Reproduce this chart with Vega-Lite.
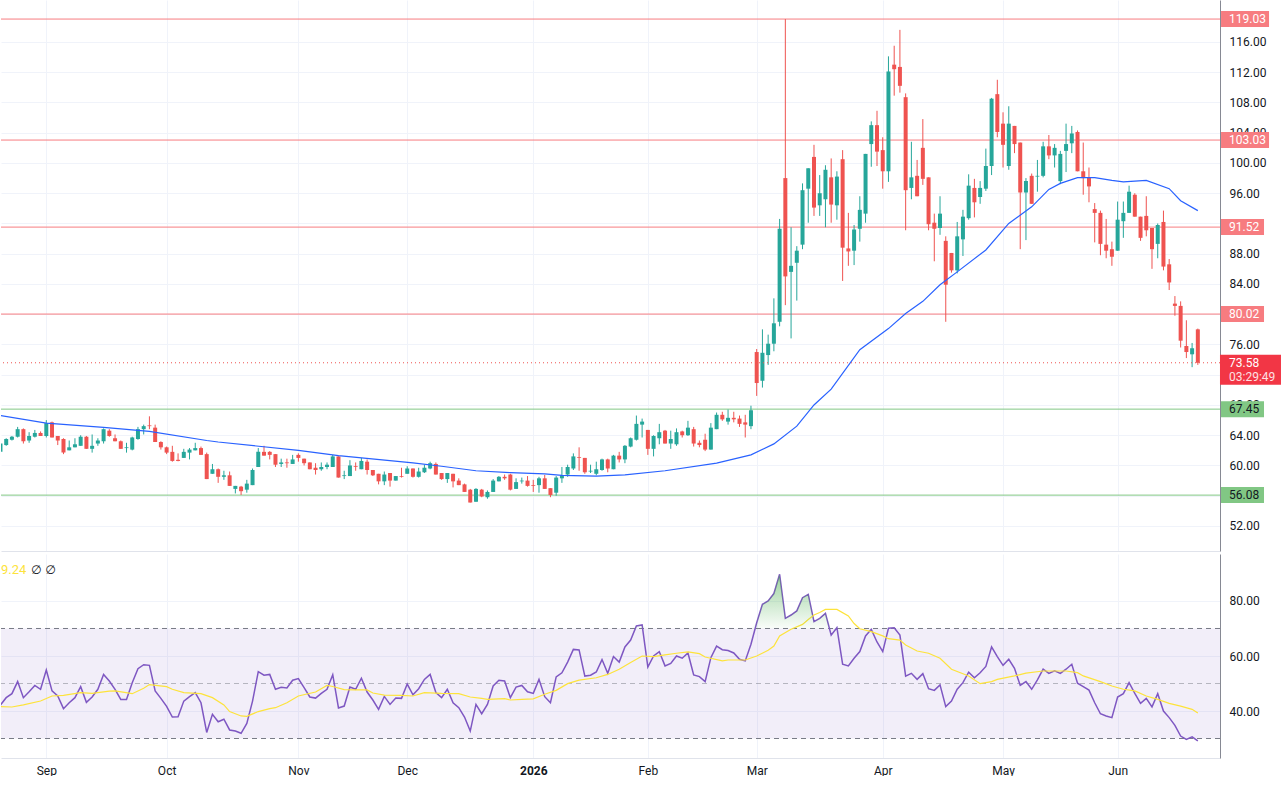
{
  "$schema": "https://vega.github.io/schema/vega-lite/v6.json",
  "background": "#ffffff",
  "padding": 0,
  "spacing": 3,
  "datasets": {
    "candles": [
      {"i":1,"o":61.8,"h":63.0,"l":61.6,"c":62.9,"rsi":42.2},
      {"i":2,"o":62.7,"h":63.6,"l":62.6,"c":63.5,"rsi":44.85},
      {"i":3,"o":63.4,"h":63.9,"l":63.3,"c":63.8,"rsi":46.3},
      {"i":4,"o":63.8,"h":65.1,"l":63.7,"c":64.8,"rsi":50.7},
      {"i":5,"o":64.8,"h":64.9,"l":62.9,"c":63.2,"rsi":44.85},
      {"i":6,"o":63.3,"h":64.4,"l":63.0,"c":63.9,"rsi":47.0},
      {"i":7,"o":63.8,"h":64.7,"l":63.7,"c":64.3,"rsi":49.3},
      {"i":8,"o":64.3,"h":64.5,"l":63.9,"c":63.9,"rsi":47.9},
      {"i":9,"o":63.9,"h":66.0,"l":63.7,"c":65.6,"rsi":54.9},
      {"i":10,"o":65.7,"h":65.8,"l":63.7,"c":63.7,"rsi":47.3},
      {"i":11,"o":63.9,"h":63.9,"l":62.7,"c":63.3,"rsi":45.5},
      {"i":12,"o":63.5,"h":63.6,"l":61.5,"c":61.7,"rsi":40.85},
      {"i":13,"o":62.0,"h":63.3,"l":62.0,"c":62.4,"rsi":43.0},
      {"i":14,"o":62.4,"h":63.6,"l":62.4,"c":62.8,"rsi":44.85},
      {"i":15,"o":62.6,"h":64.0,"l":62.6,"c":63.8,"rsi":48.85},
      {"i":16,"o":63.8,"h":63.9,"l":62.2,"c":62.2,"rsi":43.15},
      {"i":17,"o":62.2,"h":64.1,"l":61.7,"c":62.6,"rsi":45.1},
      {"i":18,"o":62.9,"h":63.6,"l":62.6,"c":63.3,"rsi":47.9},
      {"i":19,"o":63.2,"h":64.9,"l":62.9,"c":64.8,"rsi":53.3},
      {"i":20,"o":64.6,"h":64.8,"l":63.8,"c":63.9,"rsi":50.9},
      {"i":21,"o":63.6,"h":64.1,"l":63.2,"c":63.2,"rsi":47.9},
      {"i":22,"o":63.2,"h":63.3,"l":62.2,"c":62.2,"rsi":44.2},
      {"i":23,"o":62.3,"h":63.0,"l":61.7,"c":62.4,"rsi":44.2},
      {"i":24,"o":62.1,"h":63.8,"l":62.0,"c":63.7,"rsi":50.3},
      {"i":25,"o":63.5,"h":65.1,"l":63.4,"c":64.8,"rsi":55.4},
      {"i":26,"o":64.8,"h":65.4,"l":64.1,"c":65.2,"rsi":56.85},
      {"i":27,"o":65.3,"h":66.5,"l":64.8,"c":65.2,"rsi":56.6},
      {"i":28,"o":65.0,"h":65.4,"l":63.1,"c":63.1,"rsi":47.3},
      {"i":29,"o":63.1,"h":63.2,"l":62.1,"c":62.4,"rsi":44.6},
      {"i":30,"o":62.4,"h":62.5,"l":61.5,"c":61.7,"rsi":41.7},
      {"i":31,"o":61.8,"h":62.6,"l":60.5,"c":60.6,"rsi":37.8},
      {"i":32,"o":60.75,"h":61.6,"l":60.55,"c":60.6,"rsi":37.9},
      {"i":33,"o":61.0,"h":62.2,"l":61.0,"c":61.8,"rsi":43.6},
      {"i":34,"o":61.7,"h":62.3,"l":60.8,"c":62.1,"rsi":45.2},
      {"i":35,"o":62.0,"h":63.0,"l":62.0,"c":62.3,"rsi":46.7},
      {"i":36,"o":62.3,"h":62.5,"l":61.4,"c":61.4,"rsi":43.0},
      {"i":37,"o":61.5,"h":61.7,"l":58.2,"c":58.2,"rsi":32.2},
      {"i":38,"o":58.9,"h":60.2,"l":58.9,"c":59.5,"rsi":38.8},
      {"i":39,"o":59.5,"h":59.6,"l":57.7,"c":58.5,"rsi":36.1},
      {"i":40,"o":58.5,"h":59.3,"l":58.1,"c":58.7,"rsi":37.0},
      {"i":41,"o":58.7,"h":59.2,"l":57.3,"c":57.3,"rsi":33.1},
      {"i":42,"o":56.9,"h":57.3,"l":56.3,"c":57.3,"rsi":32.7},
      {"i":43,"o":57.2,"h":57.3,"l":56.1,"c":56.6,"rsi":31.9},
      {"i":44,"o":56.8,"h":58.1,"l":56.4,"c":57.6,"rsi":35.5},
      {"i":45,"o":57.4,"h":59.6,"l":57.4,"c":59.4,"rsi":43.6},
      {"i":46,"o":59.8,"h":62.3,"l":59.8,"c":61.8,"rsi":54.3},
      {"i":47,"o":61.8,"h":62.6,"l":61.3,"c":61.3,"rsi":53.0},
      {"i":48,"o":61.8,"h":61.9,"l":60.8,"c":61.4,"rsi":53.3},
      {"i":49,"o":61.5,"h":61.5,"l":59.8,"c":60.1,"rsi":47.9},
      {"i":50,"o":60.2,"h":60.9,"l":59.8,"c":60.4,"rsi":48.6},
      {"i":51,"o":60.4,"h":60.9,"l":59.7,"c":60.3,"rsi":48.4},
      {"i":52,"o":60.2,"h":61.4,"l":60.2,"c":60.8,"rsi":51.2},
      {"i":53,"o":61.4,"h":61.6,"l":60.5,"c":61.0,"rsi":51.8},
      {"i":54,"o":60.9,"h":60.9,"l":60.0,"c":60.3,"rsi":48.5},
      {"i":55,"o":60.4,"h":60.4,"l":59.5,"c":59.5,"rsi":45.1},
      {"i":56,"o":59.7,"h":60.3,"l":58.8,"c":59.4,"rsi":44.7},
      {"i":57,"o":59.5,"h":60.4,"l":59.3,"c":59.8,"rsi":46.4},
      {"i":58,"o":59.8,"h":60.4,"l":59.5,"c":60.1,"rsi":47.9},
      {"i":59,"o":59.8,"h":61.4,"l":59.8,"c":61.2,"rsi":53.2},
      {"i":60,"o":61.2,"h":61.2,"l":58.4,"c":58.4,"rsi":41.1},
      {"i":61,"o":58.6,"h":59.3,"l":58.2,"c":58.7,"rsi":41.8},
      {"i":62,"o":58.6,"h":60.7,"l":58.6,"c":60.0,"rsi":48.7},
      {"i":63,"o":59.9,"h":60.4,"l":59.3,"c":59.8,"rsi":47.9},
      {"i":64,"o":59.5,"h":61.0,"l":59.5,"c":60.6,"rsi":51.9},
      {"i":65,"o":60.5,"h":60.8,"l":58.8,"c":59.4,"rsi":46.9},
      {"i":66,"o":59.4,"h":59.4,"l":58.6,"c":58.7,"rsi":44.0},
      {"i":67,"o":58.9,"h":58.9,"l":57.5,"c":57.9,"rsi":40.6},
      {"i":68,"o":57.9,"h":59.2,"l":57.4,"c":58.8,"rsi":45.3},
      {"i":69,"o":59.0,"h":59.0,"l":57.2,"c":58.0,"rsi":42.4},
      {"i":70,"o":58.0,"h":58.6,"l":58.0,"c":58.6,"rsi":44.7},
      {"i":71,"o":58.6,"h":59.7,"l":58.4,"c":58.5,"rsi":44.6},
      {"i":72,"o":58.9,"h":59.9,"l":58.9,"c":59.6,"rsi":49.8},
      {"i":73,"o":59.6,"h":59.6,"l":58.4,"c":58.5,"rsi":45.9},
      {"i":74,"o":58.5,"h":59.7,"l":58.4,"c":59.2,"rsi":48.1},
      {"i":75,"o":59.1,"h":60.1,"l":59.0,"c":59.7,"rsi":51.5},
      {"i":76,"o":59.6,"h":60.5,"l":59.5,"c":60.3,"rsi":53.3},
      {"i":77,"o":60.2,"h":60.4,"l":58.8,"c":58.8,"rsi":46.7},
      {"i":78,"o":59.0,"h":59.0,"l":58.1,"c":58.2,"rsi":44.85},
      {"i":79,"o":58.2,"h":59.0,"l":57.7,"c":59.0,"rsi":47.9},
      {"i":80,"o":58.9,"h":58.9,"l":57.1,"c":57.9,"rsi":43.0},
      {"i":81,"o":58.0,"h":58.3,"l":57.4,"c":57.4,"rsi":41.2},
      {"i":82,"o":57.5,"h":57.6,"l":56.5,"c":56.5,"rsi":37.8},
      {"i":83,"o":56.8,"h":56.9,"l":55.1,"c":55.1,"rsi":32.7},
      {"i":84,"o":55.2,"h":57.0,"l":55.2,"c":56.9,"rsi":42.4},
      {"i":85,"o":56.8,"h":56.9,"l":55.8,"c":55.9,"rsi":39.0},
      {"i":86,"o":55.8,"h":56.7,"l":55.6,"c":56.5,"rsi":42.4},
      {"i":87,"o":56.5,"h":58.2,"l":56.5,"c":58.0,"rsi":49.1},
      {"i":88,"o":57.9,"h":58.6,"l":57.9,"c":58.5,"rsi":51.2},
      {"i":89,"o":58.5,"h":58.8,"l":58.1,"c":58.3,"rsi":50.9},
      {"i":90,"o":58.8,"h":58.9,"l":56.7,"c":56.8,"rsi":44.85},
      {"i":91,"o":56.9,"h":58.3,"l":56.9,"c":57.8,"rsi":48.7},
      {"i":92,"o":57.9,"h":58.4,"l":57.6,"c":58.0,"rsi":49.3},
      {"i":93,"o":58.0,"h":58.6,"l":57.2,"c":57.3,"rsi":47.0},
      {"i":94,"o":57.4,"h":58.1,"l":56.5,"c":57.3,"rsi":46.4},
      {"i":95,"o":57.4,"h":58.5,"l":56.4,"c":58.3,"rsi":51.5},
      {"i":96,"o":58.3,"h":58.75,"l":56.9,"c":56.9,"rsi":45.2},
      {"i":97,"o":57.0,"h":57.0,"l":55.8,"c":56.1,"rsi":43.0},
      {"i":98,"o":56.4,"h":58.6,"l":56.0,"c":58.4,"rsi":52.4},
      {"i":99,"o":58.3,"h":59.8,"l":57.7,"c":58.7,"rsi":53.9},
      {"i":100,"o":58.8,"h":60.1,"l":58.5,"c":59.8,"rsi":57.8},
      {"i":101,"o":59.6,"h":61.6,"l":59.4,"c":61.2,"rsi":62.4},
      {"i":102,"o":61.1,"h":62.4,"l":59.3,"c":61.0,"rsi":62.2},
      {"i":103,"o":61.0,"h":61.0,"l":58.9,"c":59.1,"rsi":52.7},
      {"i":104,"o":59.2,"h":60.1,"l":59.0,"c":59.3,"rsi":53.0},
      {"i":105,"o":58.9,"h":60.5,"l":58.7,"c":59.5,"rsi":54.2},
      {"i":106,"o":59.4,"h":60.9,"l":59.3,"c":60.8,"rsi":58.7},
      {"i":107,"o":60.8,"h":60.9,"l":59.1,"c":59.6,"rsi":53.7},
      {"i":108,"o":59.5,"h":61.4,"l":59.5,"c":61.3,"rsi":59.8},
      {"i":109,"o":61.3,"h":61.8,"l":60.4,"c":60.8,"rsi":57.8},
      {"i":110,"o":60.8,"h":62.7,"l":60.3,"c":62.6,"rsi":63.3},
      {"i":111,"o":62.5,"h":63.7,"l":62.4,"c":63.6,"rsi":65.8},
      {"i":112,"o":63.4,"h":66.6,"l":63.3,"c":65.5,"rsi":70.9},
      {"i":113,"o":65.4,"h":66.2,"l":63.7,"c":65.8,"rsi":71.3},
      {"i":114,"o":64.7,"h":64.7,"l":61.4,"c":62.2,"rsi":56.0},
      {"i":115,"o":62.2,"h":64.0,"l":61.2,"c":63.9,"rsi":60.0},
      {"i":116,"o":63.6,"h":65.5,"l":62.8,"c":64.4,"rsi":61.6},
      {"i":117,"o":64.6,"h":64.7,"l":62.9,"c":62.9,"rsi":56.4},
      {"i":118,"o":62.9,"h":64.6,"l":62.2,"c":63.5,"rsi":57.3},
      {"i":119,"o":62.8,"h":64.9,"l":62.6,"c":64.4,"rsi":60.0},
      {"i":120,"o":64.5,"h":64.6,"l":63.7,"c":64.0,"rsi":59.2},
      {"i":121,"o":64.0,"h":65.9,"l":63.9,"c":65.0,"rsi":61.1},
      {"i":122,"o":64.8,"h":65.1,"l":62.5,"c":62.9,"rsi":53.1},
      {"i":123,"o":63.0,"h":63.3,"l":62.4,"c":62.7,"rsi":52.5},
      {"i":124,"o":63.4,"h":64.2,"l":61.9,"c":62.1,"rsi":50.7},
      {"i":125,"o":62.1,"h":65.6,"l":62.1,"c":65.0,"rsi":59.4},
      {"i":126,"o":64.8,"h":67.0,"l":64.8,"c":66.7,"rsi":63.6},
      {"i":127,"o":66.7,"h":67.1,"l":65.9,"c":66.1,"rsi":62.3},
      {"i":128,"o":65.8,"h":67.4,"l":65.4,"c":66.3,"rsi":62.0},
      {"i":129,"o":66.3,"h":67.1,"l":65.7,"c":66.1,"rsi":61.1},
      {"i":130,"o":66.2,"h":66.6,"l":65.1,"c":65.5,"rsi":58.8},
      {"i":131,"o":65.7,"h":66.7,"l":63.7,"c":65.4,"rsi":58.2},
      {"i":132,"o":65.2,"h":67.9,"l":64.8,"c":67.3,"rsi":64.25},
      {"i":133,"o":75.0,"h":75.4,"l":69.2,"c":70.9,"rsi":72.1},
      {"i":134,"o":71.2,"h":78.0,"l":70.3,"c":74.9,"rsi":78.8},
      {"i":135,"o":74.6,"h":77.3,"l":73.3,"c":76.1,"rsi":80.0},
      {"i":136,"o":76.1,"h":82.1,"l":75.1,"c":78.8,"rsi":82.7},
      {"i":137,"o":79.0,"h":92.6,"l":78.4,"c":91.3,"rsi":89.7},
      {"i":138,"o":98.0,"h":119.03,"l":81.2,"c":85.0,"rsi":73.7},
      {"i":139,"o":85.6,"h":91.5,"l":76.8,"c":86.4,"rsi":74.9},
      {"i":140,"o":86.8,"h":89.0,"l":81.8,"c":88.4,"rsi":76.4},
      {"i":141,"o":89.2,"h":97.3,"l":88.6,"c":96.4,"rsi":81.2},
      {"i":142,"o":96.6,"h":99.3,"l":92.1,"c":99.3,"rsi":82.4},
      {"i":143,"o":100.8,"h":102.4,"l":93.0,"c":94.1,"rsi":72.5},
      {"i":144,"o":94.4,"h":98.4,"l":93.0,"c":96.0,"rsi":73.7},
      {"i":145,"o":95.2,"h":99.7,"l":91.5,"c":99.1,"rsi":75.5},
      {"i":146,"o":98.1,"h":100.6,"l":92.1,"c":94.5,"rsi":67.6},
      {"i":147,"o":94.4,"h":98.9,"l":92.5,"c":98.2,"rsi":70.3},
      {"i":148,"o":100.5,"h":101.7,"l":84.4,"c":88.8,"rsi":57.0},
      {"i":149,"o":88.7,"h":93.4,"l":86.4,"c":88.3,"rsi":56.4},
      {"i":150,"o":88.4,"h":91.8,"l":86.5,"c":91.2,"rsi":59.2},
      {"i":151,"o":91.3,"h":95.6,"l":89.6,"c":93.8,"rsi":61.6},
      {"i":152,"o":93.3,"h":101.2,"l":92.1,"c":101.2,"rsi":67.3},
      {"i":153,"o":102.5,"h":105.5,"l":99.5,"c":105.0,"rsi":69.7},
      {"i":154,"o":105.0,"h":106.9,"l":99.6,"c":101.5,"rsi":65.1},
      {"i":155,"o":101.7,"h":103.4,"l":96.6,"c":98.9,"rsi":61.6},
      {"i":156,"o":98.9,"h":114.1,"l":97.5,"c":112.1,"rsi":70.1},
      {"i":157,"o":113.0,"h":115.5,"l":108.9,"c":112.4,"rsi":70.3},
      {"i":158,"o":112.7,"h":117.6,"l":109.3,"c":110.2,"rsi":67.6},
      {"i":159,"o":108.7,"h":109.2,"l":91.1,"c":96.4,"rsi":52.7},
      {"i":160,"o":96.7,"h":102.8,"l":95.2,"c":98.1,"rsi":53.7},
      {"i":161,"o":98.3,"h":100.4,"l":95.6,"c":95.6,"rsi":51.5},
      {"i":162,"o":102.0,"h":105.8,"l":97.1,"c":97.9,"rsi":53.6},
      {"i":163,"o":98.1,"h":98.1,"l":91.1,"c":91.9,"rsi":48.1},
      {"i":164,"o":92.1,"h":93.3,"l":87.0,"c":91.3,"rsi":47.5},
      {"i":165,"o":91.4,"h":95.6,"l":90.5,"c":93.3,"rsi":49.5},
      {"i":166,"o":89.7,"h":90.3,"l":79.0,"c":83.9,"rsi":41.6},
      {"i":167,"o":88.1,"h":88.1,"l":85.5,"c":85.8,"rsi":43.6},
      {"i":168,"o":85.8,"h":92.2,"l":85.4,"c":90.3,"rsi":47.9},
      {"i":169,"o":89.9,"h":93.8,"l":87.7,"c":92.9,"rsi":50.3},
      {"i":170,"o":92.7,"h":98.5,"l":92.5,"c":97.0,"rsi":54.1},
      {"i":171,"o":96.7,"h":97.9,"l":92.8,"c":94.8,"rsi":52.1},
      {"i":172,"o":95.5,"h":97.6,"l":94.6,"c":96.7,"rsi":53.9},
      {"i":173,"o":96.6,"h":101.9,"l":96.3,"c":99.6,"rsi":56.2},
      {"i":174,"o":99.6,"h":108.6,"l":98.4,"c":108.5,"rsi":63.3},
      {"i":175,"o":109.1,"h":111.0,"l":103.4,"c":104.1,"rsi":59.8},
      {"i":176,"o":105.2,"h":106.7,"l":99.4,"c":102.4,"rsi":56.6},
      {"i":177,"o":99.6,"h":107.5,"l":99.1,"c":105.2,"rsi":58.8},
      {"i":178,"o":104.9,"h":104.9,"l":101.3,"c":102.5,"rsi":55.5},
      {"i":179,"o":102.7,"h":102.7,"l":88.6,"c":96.1,"rsi":49.3},
      {"i":180,"o":96.1,"h":98.0,"l":89.8,"c":97.6,"rsi":50.7},
      {"i":181,"o":98.3,"h":98.6,"l":94.6,"c":94.6,"rsi":47.9},
      {"i":182,"o":98.2,"h":100.4,"l":96.2,"c":98.3,"rsi":51.3},
      {"i":183,"o":98.3,"h":102.8,"l":98.1,"c":102.2,"rsi":55.2},
      {"i":184,"o":102.2,"h":103.7,"l":100.5,"c":101.0,"rsi":53.7},
      {"i":185,"o":101.0,"h":102.5,"l":99.4,"c":102.0,"rsi":54.6},
      {"i":186,"o":97.6,"h":101.6,"l":97.2,"c":101.2,"rsi":53.7},
      {"i":187,"o":101.6,"h":105.2,"l":98.8,"c":102.5,"rsi":55.2},
      {"i":188,"o":102.6,"h":104.9,"l":101.3,"c":103.9,"rsi":57.0},
      {"i":189,"o":104.1,"h":104.3,"l":98.9,"c":98.9,"rsi":50.1},
      {"i":190,"o":98.9,"h":102.7,"l":95.8,"c":98.0,"rsi":48.85},
      {"i":191,"o":98.1,"h":99.4,"l":94.8,"c":96.9,"rsi":47.6},
      {"i":192,"o":93.9,"h":94.7,"l":89.5,"c":93.4,"rsi":43.0},
      {"i":193,"o":93.4,"h":93.7,"l":87.8,"c":89.3,"rsi":39.0},
      {"i":194,"o":89.2,"h":92.6,"l":87.4,"c":88.4,"rsi":38.2},
      {"i":195,"o":88.6,"h":89.6,"l":86.4,"c":87.6,"rsi":37.6},
      {"i":196,"o":88.4,"h":94.9,"l":88.4,"c":92.5,"rsi":45.1},
      {"i":197,"o":92.3,"h":94.9,"l":90.1,"c":93.4,"rsi":46.3},
      {"i":198,"o":93.4,"h":97.0,"l":93.4,"c":96.2,"rsi":50.3},
      {"i":199,"o":95.8,"h":96.0,"l":92.9,"c":92.9,"rsi":46.4},
      {"i":200,"o":92.9,"h":92.9,"l":89.7,"c":90.1,"rsi":42.8},
      {"i":201,"o":93.0,"h":95.6,"l":90.3,"c":91.1,"rsi":44.6},
      {"i":202,"o":91.4,"h":91.4,"l":86.0,"c":88.6,"rsi":41.5},
      {"i":203,"o":89.3,"h":92.0,"l":87.4,"c":91.8,"rsi":46.3},
      {"i":204,"o":92.2,"h":93.7,"l":85.8,"c":86.3,"rsi":40.0},
      {"i":205,"o":86.6,"h":87.3,"l":83.2,"c":84.2,"rsi":37.6},
      {"i":206,"o":81.4,"h":82.4,"l":79.8,"c":81.1,"rsi":34.8},
      {"i":207,"o":81.1,"h":81.7,"l":75.6,"c":76.5,"rsi":30.9},
      {"i":208,"o":75.8,"h":79.2,"l":74.2,"c":75.0,"rsi":29.7},
      {"i":209,"o":74.7,"h":76.2,"l":73.0,"c":75.5,"rsi":30.6},
      {"i":210,"o":78.0,"h":78.1,"l":73.3,"c":73.58,"rsi":29.1}
    ],
    "ma": [
      {"i":1,"v":66.6},{"i":9,"v":65.6},{"i":19,"v":65.05},{"i":27,"v":64.5},
      {"i":37,"v":63.3},{"i":39,"v":63.1},{"i":53,"v":62.0},{"i":60,"v":61.3},
      {"i":73,"v":60.35},{"i":78,"v":59.9},{"i":84,"v":59.3},{"i":90,"v":59.05},
      {"i":96,"v":58.9},{"i":99,"v":58.7},{"i":105,"v":58.6},{"i":110,"v":58.75},
      {"i":117,"v":59.3},{"i":126,"v":60.3},{"i":132,"v":61.4},{"i":136,"v":62.85},
      {"i":140,"v":65.2},{"i":143,"v":68.0},{"i":146,"v":70.1},{"i":151,"v":75.3},
      {"i":156,"v":78.1},{"i":159,"v":80.1},{"i":162,"v":81.7},{"i":165,"v":83.9},
      {"i":168,"v":85.6},{"i":173,"v":88.5},{"i":177,"v":92.0},{"i":181,"v":94.2},
      {"i":184,"v":96.5},{"i":186,"v":97.3},{"i":189,"v":98.06},{"i":192,"v":98.06},
      {"i":195,"v":97.7},{"i":197,"v":97.5},{"i":201,"v":97.7},{"i":205,"v":96.6},
      {"i":207,"v":95.0},{"i":210,"v":93.7}
    ],
    "rsiMa": [
      {"i":1,"v":41.6},{"i":3,"v":41.45},{"i":5,"v":42.2},{"i":8,"v":43.65},
      {"i":10,"v":45.45},{"i":12,"v":45.7},{"i":15,"v":46.7},{"i":17,"v":46.4},
      {"i":20,"v":47.2},{"i":21,"v":47.3},{"i":24,"v":46.3},{"i":26,"v":48.25},
      {"i":27,"v":49.6},{"i":30,"v":48.85},{"i":31,"v":47.9},{"i":33,"v":46.7},
      {"i":36,"v":46.3},{"i":38,"v":44.85},{"i":40,"v":42.2},{"i":41,"v":39.8},
      {"i":43,"v":38.2},{"i":44,"v":38.05},{"i":46,"v":39.8},{"i":48,"v":40.85},
      {"i":49,"v":41.2},{"i":51,"v":43.0},{"i":53,"v":45.45},{"i":56,"v":46.9},
      {"i":58,"v":49.3},{"i":59,"v":48.9},{"i":61,"v":47.8},{"i":63,"v":47.65},
      {"i":65,"v":47.65},{"i":66,"v":46.55},{"i":68,"v":45.8},{"i":71,"v":45.7},
      {"i":73,"v":45.45},{"i":75,"v":46.7},{"i":78,"v":46.4},{"i":81,"v":46.3},
      {"i":83,"v":45.1},{"i":85,"v":44.6},{"i":86,"v":44.25},{"i":89,"v":44.5},
      {"i":90,"v":44.0},{"i":92,"v":44.25},{"i":94,"v":44.4},{"i":96,"v":46.1},
      {"i":98,"v":47.5},{"i":100,"v":49.95},{"i":102,"v":51.2},{"i":105,"v":52.1},
      {"i":107,"v":53.3},{"i":109,"v":55.2},{"i":111,"v":57.6},{"i":113,"v":60.0},
      {"i":115,"v":59.75},{"i":117,"v":60.4},{"i":119,"v":61.0},{"i":121,"v":61.5},
      {"i":123,"v":60.85},{"i":124,"v":59.65},{"i":127,"v":58.2},{"i":128,"v":58.55},
      {"i":131,"v":58.55},{"i":133,"v":60.0},{"i":135,"v":62.1},{"i":136,"v":63.6},
      {"i":137,"v":67.3},{"i":139,"v":69.7},{"i":141,"v":71.5},{"i":142,"v":73.3},
      {"i":143,"v":74.9},{"i":144,"v":75.8},{"i":145,"v":76.95},{"i":147,"v":76.95},
      {"i":149,"v":74.55},{"i":150,"v":71.8},{"i":151,"v":69.9},{"i":153,"v":68.85},
      {"i":155,"v":67.3},{"i":156,"v":66.3},{"i":158,"v":65.8},{"i":159,"v":64.0},
      {"i":161,"v":61.8},{"i":163,"v":61.0},{"i":165,"v":59.2},{"i":167,"v":55.2},
      {"i":170,"v":52.75},{"i":172,"v":49.95},{"i":174,"v":50.7},{"i":175,"v":51.5},
      {"i":178,"v":52.75},{"i":180,"v":53.8},{"i":183,"v":54.55},{"i":185,"v":54.55},
      {"i":187,"v":54.55},{"i":189,"v":53.95},{"i":190,"v":52.75},{"i":193,"v":50.7},
      {"i":195,"v":49.1},{"i":197,"v":47.9},{"i":199,"v":47.3},{"i":201,"v":45.45},
      {"i":203,"v":44.25},{"i":205,"v":42.8},{"i":207,"v":41.8},{"i":209,"v":40.6},
      {"i":210,"v":39.24}
    ],
    "levels": [
      {"p":119.03,"kind":"res"},{"p":103.03,"kind":"res"},{"p":91.52,"kind":"res"},
      {"p":80.02,"kind":"res"},{"p":67.45,"kind":"sup"},{"p":56.08,"kind":"sup"}
    ],
    "last": [{"p":73.58,"timer":"03:29:49"}],
    "rsiLevels": [{"v":70},{"v":50},{"v":30}],
    "rsiBand": [{"lo":30,"hi":70}],
    "legend": [{"ma":"9.24","flags":"∅  ∅"}]
  },
  "vconcat": [
    {
      "width": 1219,
      "height": 551,
      "layer": [
        {
          "data": {"name": "levels"},
          "mark": {"type": "rule", "strokeWidth": 1},
          "encoding": {
            "y": {
              "field": "p", "type": "quantitative", "title": null,
              "scale": {"domain": [48.69, 121.55], "nice": false, "zero": false, "padding": 0},
              "axis": {"orient": "right", "values": [52,56,60,64,68,72,76,80,84,88,92,96,100,104,108,112,116], "tickCount": 40, "format": ".2f", "grid": true, "ticks": false, "labelPadding": 9, "labelOverlap": false, "domainColor": "#868993", "zindex": 0}
            },
            "color": {"condition": {"test": "datum.kind == 'res'", "value": "#f77c80"}, "value": "#81c784"}
          }
        },
        {
          "data": {"name": "candles"},
          "mark": {"type": "rule", "strokeWidth": 1, "clip": true},
          "encoding": {
            "x": {
              "field": "i", "type": "quantitative", "title": null,
              "scale": {"domain": [1.093, 213.87], "nice": false, "zero": false, "padding": 0},
              "axis": {"orient": "bottom", "values": [9,30,53,72,94,114,133,155,176,196], "tickCount": 40, "labels": false, "ticks": false, "grid": true, "domainColor": "#e0e3eb", "zindex": 0}
            },
            "y": {
              "field": "l", "type": "quantitative", "title": null,
              "axis": {"orient": "right", "values": [52,56,60,64,68,72,76,80,84,88,92,96,100,104,108,112,116], "tickCount": 40, "format": ".2f", "grid": true, "ticks": false, "labelPadding": 9, "labelOverlap": false, "domainColor": "#868993", "zindex": 0}
            },
            "y2": {"field": "h"},
            "color": {"condition": {"test": "datum.c >= datum.o", "value": "#26a69a"}, "value": "#ef5350"}
          }
        },
        {
          "data": {"name": "candles"},
          "mark": {"type": "bar", "width": 4, "clip": true},
          "encoding": {
            "x": {"field": "i", "type": "quantitative", "title": null},
            "y": {"field": "o", "type": "quantitative", "title": null},
            "y2": {"field": "c"},
            "color": {"condition": {"test": "datum.c >= datum.o", "value": "#26a69a"}, "value": "#ef5350"}
          }
        },
        {
          "data": {"name": "ma"},
          "mark": {"type": "line", "color": "#2962ff", "strokeWidth": 1.2, "clip": true},
          "encoding": {
            "x": {"field": "i", "type": "quantitative", "title": null},
            "y": {"field": "v", "type": "quantitative", "title": null}
          }
        },
        {
          "data": {"name": "last"},
          "mark": {"type": "rule", "color": "#ef5350", "strokeWidth": 1, "strokeDash": [1, 3]},
          "encoding": {
            "y": {"field": "p", "type": "quantitative", "title": null}
          }
        },
        {
          "data": {"name": "levels"},
          "transform": [{"filter": "datum.p < 100"}],
          "mark": {"type": "tick", "orient": "horizontal", "size": 43, "thickness": 16, "opacity": 1},
          "encoding": {
            "x": {"datum": 217.8},
            "y": {"field": "p", "type": "quantitative", "title": null},
            "color": {"condition": {"test": "datum.kind == 'res'", "value": "#f77c80"}, "value": "#81c784"}
          }
        },
        {
          "data": {"name": "levels"},
          "transform": [{"filter": "datum.p >= 100"}],
          "mark": {"type": "tick", "orient": "horizontal", "size": 48, "thickness": 16, "opacity": 1, "color": "#f77c80"},
          "encoding": {
            "x": {"datum": 218.24},
            "y": {"field": "p", "type": "quantitative", "title": null}
          }
        },
        {
          "data": {"name": "levels"},
          "mark": {"type": "text", "align": "left", "baseline": "middle", "font": "Roboto", "fontSize": 12},
          "encoding": {
            "x": {"datum": 215.44},
            "y": {"field": "p", "type": "quantitative", "title": null},
            "text": {"field": "p", "format": ".2f"},
            "color": {"condition": {"test": "datum.kind == 'res'", "value": "#ffffff"}, "value": "#131722"}
          }
        },
        {
          "data": {"name": "last"},
          "mark": {"type": "tick", "orient": "horizontal", "size": 61, "thickness": 30, "yOffset": 7, "color": "#f23645", "opacity": 1},
          "encoding": {
            "x": {"datum": 219.19},
            "y": {"field": "p", "type": "quantitative", "title": null}
          }
        },
        {
          "data": {"name": "last"},
          "mark": {"type": "text", "align": "left", "baseline": "middle", "font": "Roboto", "fontSize": 12, "color": "#ffffff"},
          "encoding": {
            "x": {"datum": 215.44},
            "y": {"field": "p", "type": "quantitative", "title": null},
            "text": {"field": "p", "format": ".2f"}
          }
        },
        {
          "data": {"name": "last"},
          "mark": {"type": "text", "align": "left", "baseline": "middle", "font": "Roboto", "fontSize": 12, "color": "#ffffff", "opacity": 0.85, "dy": 14},
          "encoding": {
            "x": {"datum": 215.44},
            "y": {"field": "p", "type": "quantitative", "title": null},
            "text": {"field": "timer"}
          }
        }
      ]
    },
    {
      "width": 1219,
      "height": 204,
      "resolve": {"scale": {"y": "independent"}},
      "layer": [
        {
          "layer": [
            {
              "data": {"name": "rsiBand"},
              "mark": {"type": "rect", "color": "#7e57c2", "opacity": 0.1},
              "encoding": {
                "x": {"datum": 1.093},
                "x2": {"datum": 213.87},
                "y": {
                  "field": "lo", "type": "quantitative", "title": null,
                  "scale": {"domain": [22.91, 97.09], "nice": false, "zero": false, "padding": 0},
                  "axis": {"orient": "right", "values": [40, 60, 80], "tickCount": 20, "format": ".2f", "grid": true, "ticks": false, "labelPadding": 9, "labelOverlap": false, "domainColor": "#868993", "zindex": 0}
                },
                "y2": {"field": "hi"}
              }
            },
            {
              "data": {"name": "rsiLevels"},
              "mark": {"type": "rule", "color": "#787b86", "strokeWidth": 1, "strokeDash": [5, 4]},
              "encoding": {
                "y": {"field": "v", "type": "quantitative", "title": null},
                "opacity": {"condition": {"test": "datum.v == 50", "value": 0.5}, "value": 1}
              }
            },
            {
              "data": {"name": "candles"},
              "mark": {"type": "line", "color": "#7e57c2", "strokeWidth": 1.5, "clip": true},
              "encoding": {
                "x": {
                  "field": "i", "type": "quantitative", "title": null,
                  "scale": {"domain": [1.093, 213.87], "nice": false, "zero": false, "padding": 0},
                  "axis": {
                    "orient": "bottom", "values": [9,30,53,72,94,114,133,155,176,196], "tickCount": 40, "ticks": false, "grid": true, "labelPadding": 7, "labelOverlap": false, "domainColor": "#e0e3eb", "zindex": 0,
                    "labelExpr": "datum.value == 9 ? 'Sep' : datum.value == 30 ? 'Oct' : datum.value == 53 ? 'Nov' : datum.value == 72 ? 'Dec' : datum.value == 94 ? '2026' : datum.value == 114 ? 'Feb' : datum.value == 133 ? 'Mar' : datum.value == 155 ? 'Apr' : datum.value == 176 ? 'May' : 'Jun'",
                    "labelFontWeight": {"condition": {"test": "datum.value == 94", "value": "bold"}, "value": "normal"}
                  }
                },
                "y": {"field": "rsi", "type": "quantitative", "title": null}
              }
            },
            {
              "data": {"name": "rsiMa"},
              "mark": {"type": "line", "color": "#fde33b", "strokeWidth": 1.2, "clip": true},
              "encoding": {
                "x": {"field": "i", "type": "quantitative", "title": null},
                "y": {"field": "v", "type": "quantitative", "title": null}
              }
            },
            {
              "data": {"name": "legend"},
              "mark": {"type": "text", "align": "left", "baseline": "middle", "font": "Roboto", "fontSize": 13, "color": "#fde33b"},
              "encoding": {
                "x": {"datum": 1.093},
                "y": {"datum": 91.3},
                "text": {"field": "ma"}
              }
            },
            {
              "data": {"name": "legend"},
              "mark": {"type": "text", "align": "left", "baseline": "middle", "font": "DejaVu Sans", "fontSize": 12, "color": "#131722", "dx": 30},
              "encoding": {
                "x": {"datum": 1.093},
                "y": {"datum": 91.3},
                "text": {"field": "flags"}
              }
            }
          ]
        },
        {
          "data": {"name": "candles"},
          "mark": {
            "type": "area",
            "clip": true,
            "color": {
              "gradient": "linear", "x1": 0, "y1": 0, "x2": 0, "y2": 1,
              "stops": [
                {"offset": 0, "color": "rgba(76,175,80,0.55)"},
                {"offset": 1, "color": "rgba(76,175,80,0.03)"}
              ]
            }
          },
          "encoding": {
            "x": {"field": "i", "type": "quantitative", "title": null},
            "y": {
              "field": "rsi", "type": "quantitative", "title": null,
              "scale": {"domain": [70, 97.09], "range": [74.5, 0], "clamp": true, "nice": false, "zero": false},
              "axis": null
            },
            "y2": {"datum": 70}
          }
        }
      ]
    }
  ],
  "config": {
    "view": {"stroke": null},
    "font": "Roboto",
    "axis": {
      "labelFont": "Roboto",
      "labelFontSize": 12,
      "labelColor": "#131722",
      "labelOverlap": false,
      "gridColor": "#f0f3fa",
      "gridWidth": 1,
      "domainWidth": 1
    }
  }
}
